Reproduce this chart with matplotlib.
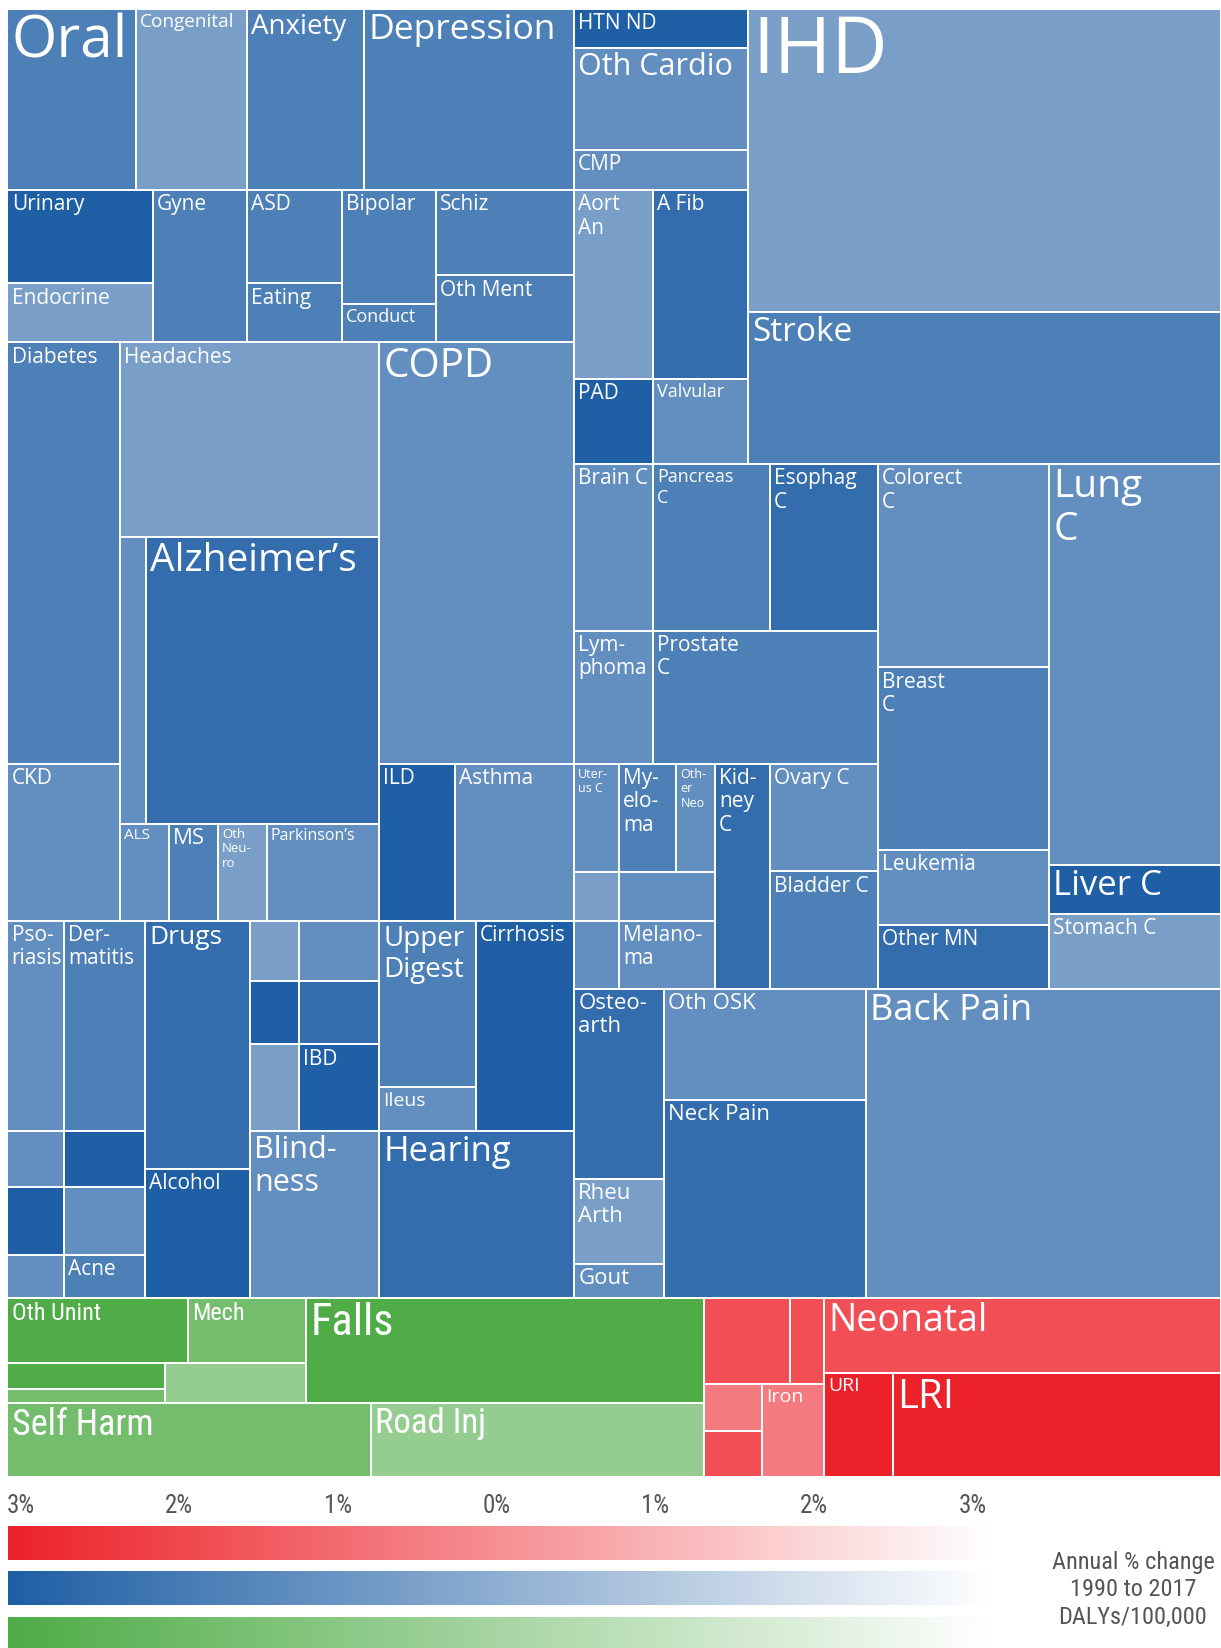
import numpy as np
import matplotlib
matplotlib.use('Agg')
import matplotlib.pyplot as plt
from matplotlib import font_manager
from matplotlib.font_manager import FontProperties
from matplotlib.colors import LinearSegmentedColormap, Normalize
from matplotlib.patches import Rectangle

plt.rcParams['font.family'] = ['Open Sans', 'DejaVu Sans']

# look for a narrow / condensed face for the condensed labels of the chart
NARROW_FILE = None
_cands = [f for f in font_manager.fontManager.ttflist
          if ('Narrow' in f.name or 'Condensed' in f.name
              or f.stretch in ('condensed', 'semi-condensed', 'extra-condensed'))
          and f.style == 'normal' and f.weight in (400, 'normal', 'regular', 'book')]
_cands.sort(key=lambda f: (0 if 'Liberation' in f.name else 1 if 'Roboto' in f.name else 2))
if _cands:
    NARROW_FILE = _cands[0].fname


def cond(size):
    if NARROW_FILE:
        return FontProperties(fname=NARROW_FILE, size=size)
    return FontProperties(family=['Open Sans', 'DejaVu Sans'], size=size * 0.85)


# DALYs per 100,000 and annual % change 1990-2017
other_ncd = ['Oral', 'Congenital', 'Urinary', 'Endocrine', 'Gyne']
other_ncd_dalys = [388, 335, 226, 143, 238]
other_ncd_change = [-1.8, -0.6, -3.1, -0.6, -1.8]

mental = ['Anxiety', 'Depression', 'ASD', 'Eating', 'Bipolar', 'Conduct', 'Schiz', 'Oth Ment']
mental_dalys = [353, 634, 147, 93, 179, 60, 196, 154]
mental_change = [-1.8, -1.8, -1.8, -1.8, -1.8, -1.8, -1.8, -1.8]

diab_kidney = ['Diabetes', 'CKD']
diab_kidney_dalys = [789, 294]
diab_kidney_change = [-1.8, -1.2]

neuro = ['Headaches', 'Neuro 1', "Alzheimer's", 'ALS', 'MS', 'Oth Neuro', "Parkinson's"]
neuro_dalys = [842, 124, 1111, 79, 79, 79, 181]
neuro_change = [-0.6, -1.2, -2.5, -1.2, -1.8, -0.6, -1.2]

resp = ['COPD', 'ILD', 'Asthma']
resp_dalys = [1368, 199, 311]
resp_change = [-1.2, -3.1, -1.2]

skin = ['Psoriasis', 'Dermatitis', 'Skin 1', 'Skin 2', 'Skin 3', 'Skin 4', 'Skin 5', 'Acne']
skin_dalys = [198, 284, 53, 76, 64, 92, 40, 58]
skin_change = [-1.2, -1.8, -1.2, -3.1, -3.1, -1.2, -1.2, -1.8]

substance = ['Drugs', 'Alcohol']
substance_dalys = [434, 226]
substance_change = [-2.5, -3.1]

digestive = ['Digest 1', 'Digest 2', 'Digest 3', 'Digest 4', 'Digest 5', 'IBD',
             'Upper Digest', 'Ileus', 'Cirrhosis']
digestive_dalys = [49, 80, 52, 85, 70, 115, 270, 70, 343]
digestive_change = [-0.6, -1.2, -3.1, -2.5, -0.6, -3.1, -1.8, -1.2, -3.1]

sense = ['Blindness', 'Hearing']
sense_dalys = [359, 543]
sense_change = [-1.2, -2.5]

cardio = ['HTN ND', 'Oth Cardio', 'CMP', 'Aort An', 'A Fib', 'PAD', 'Valvular', 'IHD', 'Stroke']
cardio_dalys = [113, 296, 116, 249, 299, 112, 135, 2389, 1198]
cardio_change = [-3.1, -1.2, -1.2, -0.6, -2.5, -3.1, -1.2, -0.6, -1.8]

neoplasms = ['Brain C', 'Pancreas C', 'Esophag C', 'Lymphoma', 'Prostate C', 'Uterus C',
             'Myeloma', 'Other Neo', 'Neo 1', 'Neo 2', 'Neo 3', 'Melanoma', 'Kidney C',
             'Ovary C', 'Bladder C', 'Colorect C', 'Breast C', 'Leukemia', 'Other MN',
             'Lung C', 'Liver C', 'Stomach C']
neoplasms_dalys = [219, 324, 299, 175, 499, 81, 103, 70, 37, 78, 51, 109, 206,
                   194, 211, 579, 519, 214, 182, 1147, 140, 215]
neoplasms_change = [-1.2, -1.8, -2.5, -1.2, -1.8, -1.2, -1.8, -1.2, -0.6, -1.2, -1.2, -1.2, -2.5,
                    -1.2, -1.8, -1.2, -1.8, -1.2, -2.5, -1.2, -3.1, -0.6]

msk = ['Osteoarth', 'Rheu Arth', 'Gout', 'Oth OSK', 'Neck Pain', 'Back Pain']
msk_dalys = [285, 128, 51, 374, 667, 1828]
msk_change = [-2.5, -0.6, -1.2, -1.2, -2.5, -1.2]

injuries = ['Oth Unint', 'Mech', 'Inj 1', 'Inj 2', 'Inj 3', 'Falls', 'Self Harm', 'Road Inj']
injuries_dalys = [196, 128, 68, 37, 94, 697, 448, 411]
injuries_change = [-3.1, -1.8, -3.1, -1.8, -0.6, -3.1, -1.8, -0.6]

cmnn = ['CMNN 1', 'CMNN 2', 'CMNN 3', 'CMNN 4', 'Iron', 'Neonatal', 'URI', 'LRI']
cmnn_dalys = [123, 49, 45, 44, 96, 496, 120, 569]
cmnn_change = [-1.8, -1.8, -0.6, -1.8, -0.6, -1.8, -3.1, -3.1]

tick_vals = [-3, -2, -1, 0, 1, 2, 3]
tick_labels = ['3%', '2%', '1%', '0%', '1%', '2%', '3%']

dalys, change, family = {}, {}, {}
for fam, names, vals, chg in [
        ('ncd', other_ncd, other_ncd_dalys, other_ncd_change),
        ('ncd', mental, mental_dalys, mental_change),
        ('ncd', diab_kidney, diab_kidney_dalys, diab_kidney_change),
        ('ncd', neuro, neuro_dalys, neuro_change),
        ('ncd', resp, resp_dalys, resp_change),
        ('ncd', skin, skin_dalys, skin_change),
        ('ncd', substance, substance_dalys, substance_change),
        ('ncd', digestive, digestive_dalys, digestive_change),
        ('ncd', sense, sense_dalys, sense_change),
        ('ncd', cardio, cardio_dalys, cardio_change),
        ('ncd', neoplasms, neoplasms_dalys, neoplasms_change),
        ('ncd', msk, msk_dalys, msk_change),
        ('inj', injuries, injuries_dalys, injuries_change),
        ('cmnn', cmnn, cmnn_dalys, cmnn_change)]:
    for n, v, c in zip(names, vals, chg):
        dalys[n] = v
        change[n] = c
        family[n] = fam

# how the cells nest: 'h' = side by side, 'v' = stacked
layout = ('v', [
    ('h', [
        ('v', [
            ('h', ['Oral', 'Congenital', 'Anxiety', 'Depression']),
            ('h', [('v', ['Urinary', 'Endocrine']), 'Gyne', ('v', ['ASD', 'Eating']),
                   ('v', ['Bipolar', 'Conduct']), ('v', ['Schiz', 'Oth Ment'])]),
            ('h', [('v', ['Diabetes', 'CKD']),
                   ('v', ['Headaches', ('h', ['Neuro 1', "Alzheimer's"]),
                          ('h', ['ALS', 'MS', 'Oth Neuro', "Parkinson's"])]),
                   ('v', ['COPD', ('h', ['ILD', 'Asthma'])])]),
            ('h', [('v', [('h', ['Psoriasis', 'Dermatitis']), ('h', ['Skin 1', 'Skin 2']),
                          ('h', ['Skin 3', 'Skin 4']), ('h', ['Skin 5', 'Acne'])]),
                   ('v', ['Drugs', 'Alcohol']),
                   ('v', [('h', [('v', [('h', ['Digest 1', 'Digest 2']),
                                        ('h', ['Digest 3', 'Digest 4']),
                                        ('h', ['Digest 5', 'IBD'])]),
                                 ('v', ['Upper Digest', 'Ileus']), 'Cirrhosis']),
                          ('h', ['Blindness', 'Hearing'])])]),
        ]),
        ('v', [
            ('h', [('v', ['HTN ND', 'Oth Cardio', 'CMP', ('h', ['Aort An', 'A Fib']),
                          ('h', ['PAD', 'Valvular'])]),
                   ('v', ['IHD', 'Stroke'])]),
            ('h', [('v', [('h', ['Brain C', 'Pancreas C', 'Esophag C']),
                          ('h', ['Lymphoma', 'Prostate C']),
                          ('h', [('v', [('h', ['Uterus C', 'Myeloma', 'Other Neo']),
                                        ('h', ['Neo 1', 'Neo 2']),
                                        ('h', ['Neo 3', 'Melanoma'])]),
                                 'Kidney C', ('v', ['Ovary C', 'Bladder C'])])]),
                   ('v', ['Colorect C', 'Breast C', 'Leukemia', 'Other MN']),
                   ('v', ['Lung C', 'Liver C', 'Stomach C'])]),
            ('h', [('v', ['Osteoarth', 'Rheu Arth', 'Gout']), ('v', ['Oth OSK', 'Neck Pain']),
                   'Back Pain']),
        ]),
    ]),
    ('h', [
        ('v', [('h', [('v', [('h', ['Oth Unint', 'Mech']),
                             ('h', [('v', ['Inj 1', 'Inj 2']), 'Inj 3'])]), 'Falls']),
               ('h', ['Self Harm', 'Road Inj'])]),
        ('h', [('v', [('h', ['CMNN 1', 'CMNN 2']), ('h', [('v', ['CMNN 3', 'CMNN 4']), 'Iron'])]),
               ('v', ['Neonatal', ('h', ['URI', 'LRI'])])]),
    ]),
])

# text shown in the cells (with the chart's hyphenation) and its size
shown = {
    'Oral': ('Oral', 42), 'Congenital': ('Congenital', 13.7), 'Anxiety': ('Anxiety', 20),
    'Depression': ('Depression', 25.5), 'Urinary': ('Urinary', 15), 'Endocrine': ('Endocrine', 15),
    'Gyne': ('Gyne', 15), 'ASD': ('ASD', 15), 'Eating': ('Eating', 15), 'Bipolar': ('Bipolar', 15),
    'Conduct': ('Conduct', 13), 'Schiz': ('Schiz', 15), 'Oth Ment': ('Oth Ment', 15),
    'Diabetes': ('Diabetes', 15), 'CKD': ('CKD', 15), 'Headaches': ('Headaches', 15),
    "Alzheimer's": ('Alzheimer’s', 28), 'ALS': ('ALS', 11), 'MS': ('MS', 16),
    'Oth Neuro': ('Oth\nNeu-\nro', 9.5), "Parkinson's": ('Parkinson’s', 11.5),
    'COPD': ('COPD', 29), 'ILD': ('ILD', 15), 'Asthma': ('Asthma', 15),
    'Psoriasis': ('Pso-\nriasis', 15), 'Dermatitis': ('Der-\nmatitis', 15), 'Acne': ('Acne', 15),
    'Drugs': ('Drugs', 19), 'Alcohol': ('Alcohol', 15), 'IBD': ('IBD', 15),
    'Upper Digest': ('Upper\nDigest', 20), 'Ileus': ('Ileus', 14), 'Cirrhosis': ('Cirrhosis', 15),
    'Blindness': ('Blind-\nness', 22), 'Hearing': ('Hearing', 25),
    'HTN ND': ('HTN ND', 15), 'Oth Cardio': ('Oth Cardio', 22), 'CMP': ('CMP', 15),
    'Aort An': ('Aort\nAn', 15), 'A Fib': ('A Fib', 15), 'PAD': ('PAD', 15),
    'Valvular': ('Valvular', 13), 'IHD': ('IHD', 56), 'Stroke': ('Stroke', 24),
    'Brain C': ('Brain C', 15), 'Pancreas C': ('Pancreas\nC', 13), 'Esophag C': ('Esophag\nC', 15),
    'Lymphoma': ('Lym-\nphoma', 15), 'Prostate C': ('Prostate\nC', 15),
    'Uterus C': ('Uter-\nus C', 9), 'Myeloma': ('My-\nelo-\nma', 15),
    'Other Neo': ('Oth-\ner\nNeo', 9), 'Melanoma': ('Melano-\nma', 15),
    'Kidney C': ('Kid-\nney\nC', 15), 'Ovary C': ('Ovary C', 15), 'Bladder C': ('Bladder C', 15),
    'Colorect C': ('Colorect\nC', 15), 'Breast C': ('Breast\nC', 15), 'Leukemia': ('Leukemia', 15),
    'Other MN': ('Other MN', 15), 'Lung C': ('Lung\nC', 28), 'Liver C': ('Liver C', 25),
    'Stomach C': ('Stomach C', 15),
    'Osteoarth': ('Osteo-\narth', 16), 'Rheu Arth': ('Rheu\nArth', 16), 'Gout': ('Gout', 16),
    'Oth OSK': ('Oth OSK', 16), 'Neck Pain': ('Neck Pain', 16), 'Back Pain': ('Back Pain', 26),
    'Oth Unint': ('Oth Unint', 17.5), 'Mech': ('Mech', 17.5), 'Falls': ('Falls', 32),
    'Self Harm': ('Self Harm', 26), 'Road Inj': ('Road Inj', 25),
    'Iron': ('Iron', 14), 'Neonatal': ('Neonatal', 27), 'URI': ('URI', 14), 'LRI': ('LRI', 29),
}
condensed = {'Oth Unint', 'Mech', 'Falls', 'Self Harm', 'Road Inj'}

cmaps = {
    'ncd': LinearSegmentedColormap.from_list('ncd', ['#1f5fa5', '#ffffff']),
    'cmnn': LinearSegmentedColormap.from_list('cmnn', ['#ed2129', '#ffffff']),
    'inj': LinearSegmentedColormap.from_list('inj', ['#4fac47', '#ffffff']),
}
norm = Normalize(vmin=-3.08, vmax=3.13)


def total(node):
    if isinstance(node, str):
        return dalys[node]
    return sum(total(k) for k in node[1])


def place(node, x0, y0, x1, y1, out):
    if isinstance(node, str):
        out.append((node, x0, y0, x1, y1))
        return
    direction, kids = node
    sizes = [total(k) for k in kids]
    s = float(sum(sizes))
    pos = x0 if direction == 'h' else y0
    for k, sz in zip(kids, sizes):
        if direction == 'h':
            step = (x1 - x0) * sz / s
            place(k, pos, y0, pos + step, y1, out)
        else:
            step = (y1 - y0) * sz / s
            place(k, x0, pos, x1, pos + step, out)
        pos += step


cells = []
place(layout, 0.0, 0.0, 1.0, 1.0, cells)

fig = plt.figure(figsize=(12.21, 16.48), dpi=100)
ax = fig.add_axes([7.5 / 1221, 1 - 1477 / 1648, 1213.5 / 1221, 1468 / 1648])
ax.set_xlim(0, 1)
ax.set_ylim(1, 0)
ax.axis('off')

for name, x0, y0, x1, y1 in cells:
    col = cmaps[family[name]](norm(change[name]))
    ax.add_patch(Rectangle((x0, y0), x1 - x0, y1 - y0, facecolor=col,
                           edgecolor='white', linewidth=1.4))
    if name in shown:
        txt, size = shown[name]
        if name in condensed:
            props = cond(size)
        else:
            props = FontProperties(family=['Open Sans', 'DejaVu Sans'], size=size)
        ax.annotate(txt, (x0, y0), xytext=(3, -3), textcoords='offset points',
                    ha='left', va='top', color='white', fontproperties=props,
                    linespacing=1.15, annotation_clip=False)

# colour scales
grad = np.linspace(norm.vmin, norm.vmax, 512)[None, :]
for key, y_top in [('cmnn', 1526), ('ncd', 1571), ('inj', 1617)]:
    cax = fig.add_axes([8 / 1221, 1 - (y_top + 34) / 1648, 985 / 1221, 34 / 1648])
    cax.imshow(grad, cmap=cmaps[key], norm=norm, aspect='auto',
               extent=[norm.vmin, norm.vmax, 0, 1])
    cax.set_xlim(norm.vmin, norm.vmax)
    cax.set_yticks([])
    for sp in cax.spines.values():
        sp.set_visible(False)
    if key == 'cmnn':
        cax.xaxis.tick_top()
        cax.set_xticks(tick_vals, tick_labels)
        cax.tick_params(length=0, pad=6)
        for lbl in cax.get_xticklabels():
            lbl.set_fontproperties(cond(18))
            lbl.set_color('#555555')
    else:
        cax.set_xticks([])

fig.text(1133 / 1221, 1 - 1590 / 1648, 'Annual % change\n1990 to 2017\nDALYs/100,000',
         ha='center', va='center', fontproperties=cond(17.5), color='#555555',
         linespacing=1.25)

fig.savefig('out.png', dpi=100)
